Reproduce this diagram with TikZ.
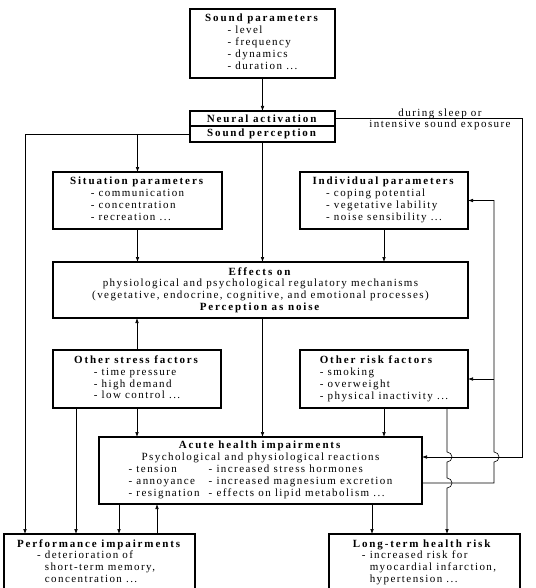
\documentclass[tikz,border=0pt]{standalone}
\usepackage{fontspec}
\setmainfont{Liberation Serif}[LetterSpace=13, BoldFeatures={LetterSpace=17}]
\usetikzlibrary{positioning,calc,arrows.meta}
\newcommand{\hd}[1]{\textbf{#1}}
\newcommand{\lst}[1]{\begin{tabular}[t]{@{}l@{}}#1\end{tabular}}

\begin{document}
\begin{tikzpicture}[
      box/.style={draw, line width=1.1pt, outer sep=0pt, inner sep=2pt, align=center,
        font=\fontsize{11}{11.8}\selectfont},
      arr/.style={->, line width=0.6pt},
      >={Latex[length=5pt,width=3.6pt]}
    ]
    \useasboundingbox (0,0) rectangle (535pt,-588pt);

    % Main column
    \node[box, anchor=north, minimum width=145pt, minimum height=69pt] (sound) at (262.5pt,-9pt)
      {\hd{Sound parameters}\\ \lst{- level\\ - frequency\\ - dynamics\\ - duration ...}};
    \node[box, minimum width=145pt, minimum height=15pt, below=33pt of sound] (neural) {\hd{Neural activation}};
    \node[box, minimum width=145pt, minimum height=16pt, below=0pt of neural] (percep) {\hd{Sound perception}};

    \node[box, minimum width=415pt, minimum height=56pt, below=120pt of percep, xshift=-2pt] (effects)
      {\hd{Effects on}\\
       physiological and psychological regulatory mechanisms\\
       (vegetative, endocrine, cognitive, and emotional processes)\\
       \hd{Perception as noise}};

    \node[box, minimum width=323pt, minimum height=67pt, below=119pt of effects] (acute)
      {\hd{Acute health impairments}\\
       Psychological and physiological reactions\\
       \begin{tabular}[t]{@{}l@{\hspace{9pt}}l@{}}
         - tension & - increased stress hormones\\
         - annoyance & - increased magnesium excretion\\
         - resignation & - effects on lipid metabolism ...
       \end{tabular}};

    % Side boxes
    \node[box, minimum width=169pt, minimum height=57pt, above=33pt of effects.north west, anchor=south west] (sit)
      {\hd{Situation parameters}\\ \lst{- communication\\ - concentration\\ - recreation ...}};
    \node[box, minimum width=168pt, minimum height=57pt, above=33pt of effects.north east, anchor=south east] (indiv)
      {\hd{Individual parameters}\\ \lst{- coping potential\\ - vegetative lability\\ - noise sensibility ...}};
    \node[box, minimum width=168pt, minimum height=58pt, below=32pt of effects.south west, anchor=north west] (stress)
      {\hd{Other stress factors}\\ \lst{- time pressure\\ - high demand\\ - low control ...}};
    \node[box, minimum width=168pt, minimum height=58pt, below=32pt of effects.south east, anchor=north east] (risk)
      {\lst{\hd{Other risk factors}\\ - smoking\\ - overweight\\ - physical inactivity ...}};

    % Outcomes (cut off by the lower edge)
    \node[box, anchor=north west, minimum width=191pt, minimum height=57pt] (perf) at (4pt,-534pt)
      {\lst{\hd{Performance impairments}\\
       \hspace*{20pt}- deterioration of\\
       \hspace*{20pt}\phantom{- }short-term memory,\\
       \hspace*{20pt}\phantom{- }concentration ...}};
    \node[box, anchor=north east, minimum width=191pt, minimum height=57pt] (longterm) at (520pt,-534pt)
      {\lst{\hd{Long-term health risk}\\
       \hspace*{9pt}- increased risk for\\
       \hspace*{9pt}\phantom{- }myocardial infarction,\\
       \hspace*{9pt}\phantom{- }hypertension ...}};

    % Helper points
    \coordinate (lx) at ([xshift=21pt]perf.north west);
    \coordinate (sp) at ([xshift=23pt]stress.south west);
    \coordinate (ap) at ([xshift=20pt]acute.south west);
    \coordinate (pa) at ([xshift=58pt]acute.south west);
    \coordinate (al2) at ([xshift=-50pt]acute.south east);
    \coordinate (rk) at ([xshift=-21pt]risk.south east);
    \coordinate (lp) at ([xshift=26pt]indiv.east);
    \coordinate (rx) at ([xshift=2pt]longterm.north east);
    \coordinate (au) at ([yshift=13.5pt]acute.east);
    \coordinate (al) at ([yshift=-12.5pt]acute.east);

    % Arrows
    \draw[arr] (sound) -- (neural);
    \draw[arr] (percep.west) -| (lx);
    \draw[arr] (percep.west -| sit.north) -- (sit.north);
    \draw[arr] (percep.south) -- (percep.south |- effects.north);
    \draw[arr] (sit.south) -- (sit.south |- effects.north);
    \draw[arr] (indiv.south) -- (indiv.south |- effects.north);
    \draw[arr] (stress.north) -- (stress.north |- effects.south);
    \draw[arr] (percep.south |- effects.south) -- (percep.south |- acute.north);
    \draw[arr] (stress.south) -- (stress.south |- acute.north);
    \draw[arr] (risk.south) -- (risk.south |- acute.north);
    \draw[arr] (sp) -- (sp |- perf.north);
    \draw[arr] (ap) -- (ap |- perf.north);
    \draw[arr] (pa |- perf.north) -- (pa);
    \draw[arr] (al2) -- (al2 |- longterm.north);

    % Feedback loops with line hops
    \draw[arr] (neural.east) -| (rx |- au) -- (au);
    \draw[arr] (al) -- (al -| lp) -- ($(au -| lp)+(0,-5pt)$)
      arc[start angle=-90, end angle=90, radius=5pt] -- (lp |- indiv.east) -- (indiv.east);
    \draw[arr] (lp |- risk.east) -- (risk.east);
    \draw[arr] (rk) -- ($(rk |- au)+(0,5pt)$) arc[start angle=90, end angle=-90, radius=5pt]
      -- ($(rk |- al)+(0,5pt)$) arc[start angle=90, end angle=-90, radius=5pt] -- (rk |- longterm.north);

    \node[inner sep=0pt, align=center, font=\fontsize{11}{11}\selectfont] (cond) at ([xshift=105pt,yshift=-1pt]neural.east)
      {during sleep or\\ intensive sound exposure};

  \end{tikzpicture}
\end{document}
